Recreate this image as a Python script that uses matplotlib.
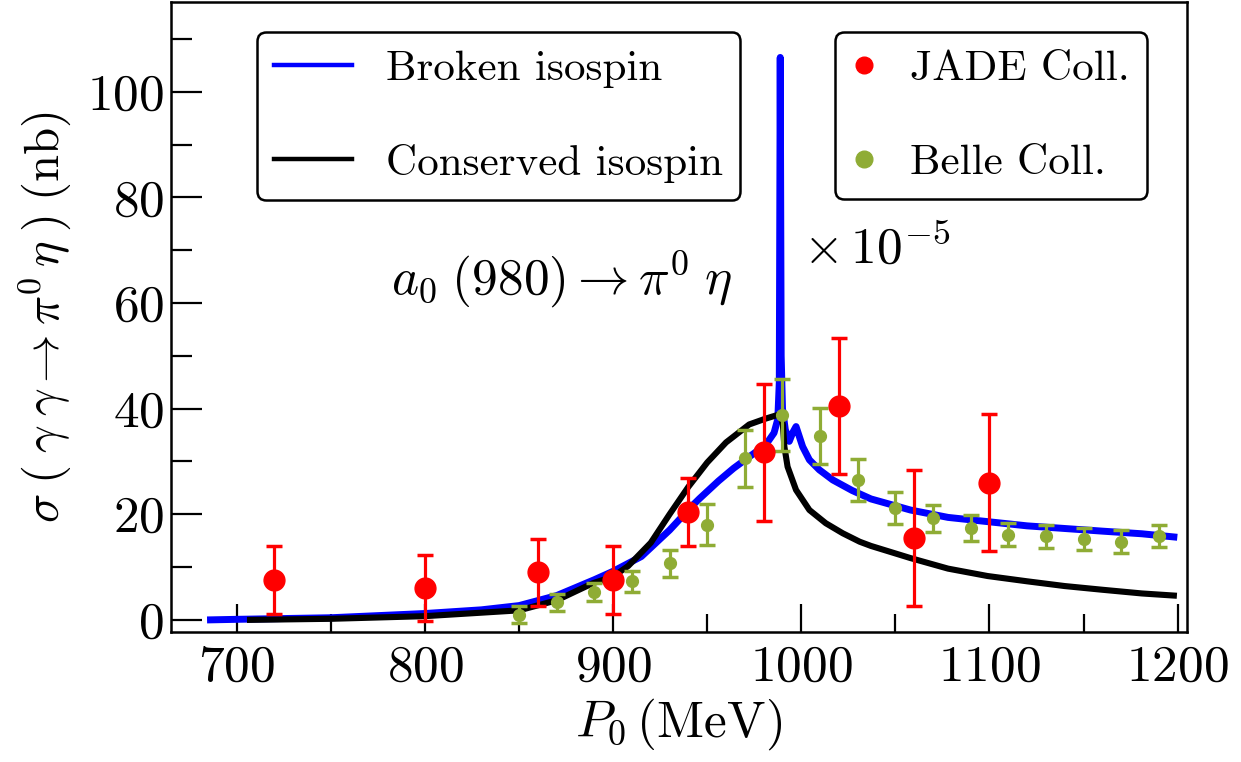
import matplotlib
matplotlib.use("Agg")
import matplotlib.pyplot as plt
from matplotlib.lines import Line2D
from matplotlib.ticker import MultipleLocator

plt.rcParams['font.family'] = 'serif'
plt.rcParams['font.serif'] = ['cmr10']
plt.rcParams['mathtext.fontset'] = 'cm'
plt.rcParams['axes.formatter.use_mathtext'] = True

# theory curves
broken_x = [686, 700, 750, 800, 830, 850, 870, 890, 900, 915, 930, 942, 946, 956, 964,
            972, 981, 985.5, 987.5, 988.3, 988.8, 989.3, 990, 991.5, 993.6, 995.5,
            997.2, 1000.7, 1004.3, 1009.6, 1016.7, 1027, 1037, 1058, 1078, 1099,
            1120, 1140, 1160, 1181, 1198]
broken_y = [0.0, 0.1, 0.4, 1.2, 1.9, 2.7, 4.6, 7.6, 9.2, 12.0, 17.0, 21.6, 23.0, 26.3, 28.7,
            30.8, 33.1, 35.4, 38.0, 45.0, 106.5, 50.0, 40.0, 36.0, 33.8, 35.5,
            36.6, 32.8, 30.3, 28.4, 26.5, 24.5, 22.9, 20.8, 19.4, 18.6,
            17.8, 17.3, 16.8, 16.3, 15.7]

conserved_x = [707, 750, 800, 850, 870, 889, 900, 908, 920, 930, 940, 950, 960,
               972.3, 981, 987.4, 989, 990.2, 991, 992.7, 997.2, 1004.3, 1013, 1022,
               1031, 1037, 1058, 1078, 1099, 1120, 1140, 1160, 1181, 1198]
conserved_y = [0.0, 0.2, 0.7, 1.8, 3.7, 6.9, 8.2, 10.2, 14.6, 20.0, 25.2, 29.8, 33.6,
               37.0, 38.1, 38.8, 38.5, 37.0, 32.8, 29.0, 24.6, 20.8, 18.3, 16.4,
               14.8, 14.0, 11.7, 9.7, 8.3, 7.3, 6.4, 5.7, 5.0, 4.6]

# JADE data
jade_x = [720, 800, 860, 900, 940, 980, 1020, 1060, 1100]
jade_y = [7.6, 6.0, 9.0, 7.6, 20.4, 31.7, 40.5, 15.5, 26.0]
jade_err = [6.4, 6.3, 6.3, 6.4, 6.5, 12.9, 12.9, 12.9, 12.9]

# Belle data
belle_x = [850, 870, 890, 910, 930, 950, 970, 990, 1010, 1030, 1050, 1070, 1090,
           1110, 1130, 1150, 1170, 1190]
belle_y = [0.95, 3.3, 5.25, 7.3, 10.7, 18.0, 30.6, 38.8, 34.9, 26.5, 21.2, 19.2, 17.4,
           16.1, 15.8, 15.3, 14.8, 15.9]
belle_err = [1.6, 1.65, 1.7, 2.0, 2.5, 3.9, 5.4, 6.8, 5.3, 3.9, 3.1, 2.6, 2.4,
             2.15, 2.15, 2.05, 2.15, 2.15]

green = '#8fac35'

fig = plt.figure(figsize=(12.41, 7.62), dpi=100)
ax = fig.add_axes([0.1378, 0.1706, 0.8187, 0.8268])

ax.plot(broken_x, broken_y, color='#0000ff', lw=5.0, zorder=2)
ax.plot(conserved_x, conserved_y, color='black', lw=4.4, zorder=2.5)

ax.errorbar(belle_x, belle_y, yerr=belle_err, fmt='o', color=green, ms=8.5,
            elinewidth=2.3, capsize=6, capthick=2.5, zorder=3)
ax.errorbar(jade_x, jade_y, yerr=jade_err, fmt='o', color='#ff0000', ms=15,
            elinewidth=2.3, capsize=6, capthick=2.5, zorder=4)

ax.set_xlim(665, 1205)
ax.set_ylim(-2.3, 117)
ax.xaxis.set_major_locator(MultipleLocator(100))
ax.xaxis.set_minor_locator(MultipleLocator(50))
ax.yaxis.set_major_locator(MultipleLocator(20))
ax.yaxis.set_minor_locator(MultipleLocator(10))
ax.tick_params(axis='both', which='both', direction='in', top=False, right=False,
               width=1.6, labelsize=37)
ax.tick_params(axis='y', which='major', length=22, pad=5)
ax.tick_params(axis='y', which='minor', length=15)
ax.tick_params(axis='x', which='major', length=20, pad=9)
ax.tick_params(axis='x', which='minor', length=13)
for sp in ax.spines.values():
    sp.set_linewidth(1.8)

ax.set_xlabel(r'$P_0\,(\mathrm{MeV})$', fontsize=37, labelpad=4)
ax.set_ylabel(r'$\sigma\;(\;\gamma\;\gamma\to\pi^0\,\eta\;)\;(\mathrm{nb})$',
              fontsize=35, labelpad=10)

ax.text(782, 61.6, r'$a_0\;(980)\to\pi^0\;\eta$', fontsize=37)
ax.text(1001, 67.6, r'$\times\,10^{-5}$', fontsize=37)

h1 = [Line2D([], [], color='#0000ff', lw=3.2), Line2D([], [], color='black', lw=3.2)]
leg1 = ax.legend(h1, ['Broken isospin', 'Conserved isospin'], loc='upper left',
                 bbox_to_anchor=(0.0846, 0.952), borderaxespad=0, fontsize=31,
                 handlelength=1.8, handletextpad=0.8, labelspacing=1.3,
                 borderpad=0.4, fancybox=True, framealpha=1, edgecolor='black')
leg1.get_frame().set_linewidth(1.8)
ax.add_artist(leg1)

h2 = [Line2D([], [], ls='none', marker='o', color='#ff0000', ms=12),
      Line2D([], [], ls='none', marker='o', color=green, ms=12)]
leg2 = ax.legend(h2, ['JADE Coll.', 'Belle Coll.'], loc='upper left',
                 bbox_to_anchor=(0.6535, 0.952), borderaxespad=0, fontsize=31,
                 handlelength=0.55, handletextpad=0.8, labelspacing=1.3,
                 borderpad=0.4, fancybox=True, framealpha=1, edgecolor='black')
leg2.get_frame().set_linewidth(1.8)

fig.savefig('out.png', dpi=100)
